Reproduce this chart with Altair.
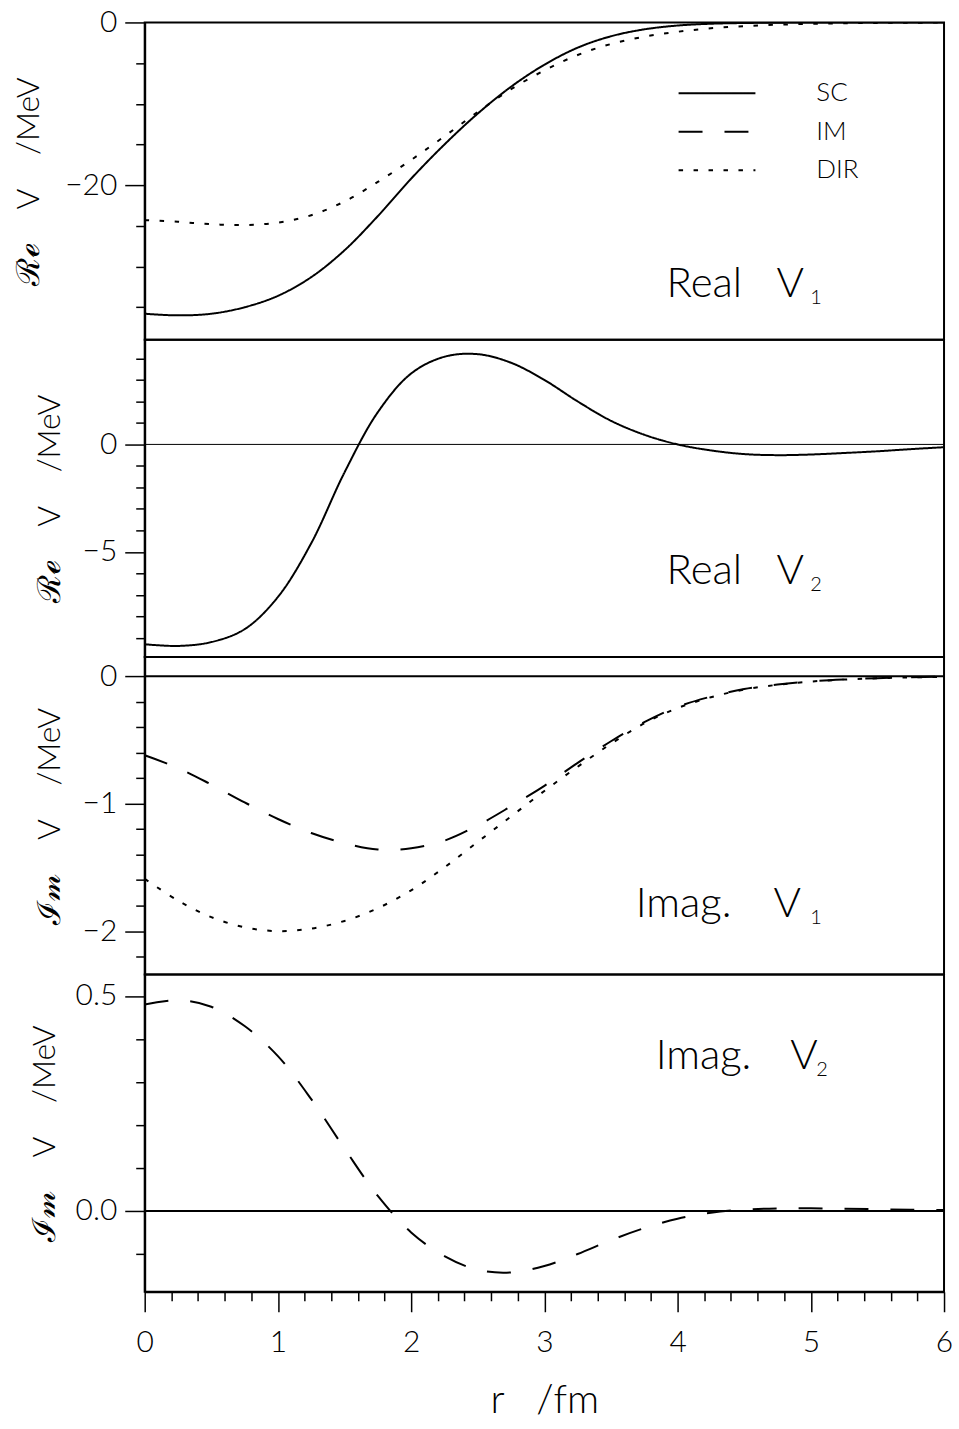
import altair as alt
import pandas as pd

FONT = "Lato"
FW = 300

# ---------------- data ----------------
r = [0, 0.25, 0.5, 0.75, 1.0, 1.25, 1.5, 1.75, 2.0, 2.25, 2.5, 2.75, 3.0,
     3.25, 3.5, 3.75, 4.0, 4.25, 4.5, 4.75, 5.0, 5.25, 5.5, 5.75, 6.0]

# Real V1 (MeV)
re1_sc = [-35.8, -36.0, -35.8, -35.0, -33.6, -31.3, -28.0, -23.8, -19.2, -15.0,
          -11.2, -7.9, -5.2, -3.1, -1.7, -0.85, -0.38, -0.16, -0.07, -0.03,
          -0.01, 0.0, 0.0, 0.0, 0.0]
re1_dir = [-24.3, -24.5, -24.8, -24.9, -24.6, -23.7, -22.0, -19.6, -16.9, -14.0,
           -11.0, -8.2, -5.9, -4.0, -2.65, -1.75, -1.15, -0.72, -0.45, -0.28,
           -0.17, -0.1, -0.06, -0.03, -0.02]

# Real V2 (MeV)
re2_sc = [-9.3, -9.38, -9.2, -8.6, -7.1, -4.6, -1.3, 1.5, 3.3, 4.08, 4.2, 3.8,
          3.0, 2.0, 1.1, 0.45, 0.0, -0.28, -0.45, -0.5, -0.47, -0.4, -0.32,
          -0.22, -0.13]

# Imag V1 (MeV)
im1_im = [-0.62, -0.72, -0.85, -0.99, -1.12, -1.23, -1.31, -1.36, -1.35, -1.29,
          -1.17, -1.02, -0.86, -0.68, -0.51, -0.36, -0.24, -0.16, -0.1, -0.065,
          -0.04, -0.025, -0.015, -0.008, -0.004]
im1_dir = [-1.59, -1.76, -1.89, -1.97, -2.0, -1.98, -1.92, -1.82, -1.68, -1.5,
           -1.3, -1.1, -0.9, -0.71, -0.53, -0.37, -0.25, -0.165, -0.105, -0.067,
           -0.042, -0.026, -0.016, -0.009, -0.005]

# Imag V2 (MeV)
im2_im = [0.48, 0.49, 0.475, 0.43, 0.36, 0.26, 0.145, 0.035, -0.05, -0.105,
          -0.137, -0.143, -0.128, -0.1, -0.068, -0.04, -0.018, -0.004, 0.003,
          0.006, 0.006, 0.005, 0.004, 0.003, 0.002]

models = ["SC", "IM", "DIR"]
dashes = [[1, 0], [24, 22], [4.5, 10.5]]

x_ticks = [round(i * 0.2, 1) for i in range(31)]
p1_ticks = [-35, -30, -25, -20, -15, -10, -5, 0]
p2_ticks = [-9, -8, -7, -6, -5, -4, -3, -2, -1, 0, 1, 2, 3, 4]
p3_ticks = [round(-2.2 + 0.2 * i, 1) for i in range(12)]
p4_ticks = [-0.1, 0.0, 0.1, 0.2, 0.3, 0.4, 0.5]

NB = "\u00a0"
title_re = "ℛℯ" + NB * 4 + "V" + NB * 4 + "/MeV"
title_im = "ℐ𝓂" + NB * 4 + "V" + NB * 4 + "/MeV"

W, H = 801, 318


def frame(cols):
    rows = []
    for name, vals in cols:
        for rr, vv in zip(r, vals):
            rows.append({"r": rr, "v": vv, "model": name})
    return pd.DataFrame(rows)


def test_expr(step):
    return f"abs(datum.value/{step} - round(datum.value/{step})) < 1e-6"


def label_expr(step, fmt):
    t = test_expr(step)
    return f"({t}) ? format(datum.value, '{fmt}') : ''"


def y_axis(values, step, minor, fmt, title, title_x):
    t = test_expr(step)
    return alt.Axis(
        values=values, tickCount=200, tickMinStep=minor,
        labelExpr=label_expr(step, fmt),
        tickSize={"condition": {"test": t, "value": 20}, "value": 9},
        tickWidth=1.5, tickColor="black", domainColor="black", domainWidth=2,
        labelFont=FONT, labelFontSize=30, labelFontWeight=FW, labelColor="black",
        labelPadding=8, labelFlush=False, labelOverlap=False, labelBound=False,
        grid=False, title=title, titleX=title_x, titleY=H / 2, titleAngle=270,
        titleAlign="center", titleBaseline="alphabetic", titleFont=FONT,
        titleFontSize=32, titleFontWeight=FW, titleColor="black",
    )


def x_axis():
    t = test_expr(1)
    return alt.Axis(
        values=x_ticks, tickCount=200, tickMinStep=0.2,
        labelExpr=label_expr(1, ".0f"),
        tickSize={"condition": {"test": t, "value": 20}, "value": 9},
        tickWidth=1.5, tickColor="black", domainColor="black", domainWidth=2,
        labelFont=FONT, labelFontSize=30, labelFontWeight=FW, labelColor="black",
        labelPadding=16, labelFlush=False, labelOverlap=False, labelBound=False,
        grid=False, title="r" + NB * 3 + "/fm", titleFont=FONT, titleFontSize=40,
        titleFontWeight=FW, titleColor="black", titleBaseline="alphabetic",
        titleY=121, titleX=W / 2, titleAlign="center",
    )


def text(t, px, py, size):
    return alt.Chart(pd.DataFrame({"t": [t]})).mark_text(
        align="left", baseline="alphabetic", font=FONT, fontSize=size,
        fontWeight=FW, color="black"
    ).encode(x=alt.value(px), y=alt.value(py), text="t:N")


def zero_rule(width):
    return alt.Chart(pd.DataFrame({"z": [0]})).mark_rule(
        color="black", strokeWidth=width).encode(y=alt.datum(0))


def panel(df, ydom, axis, extras, xaxis=None):
    enc_x = alt.X("r:Q", scale=alt.Scale(domain=[0, 6], nice=False, zero=False),
                  axis=xaxis)
    base = alt.Chart(df).mark_line(
        interpolate="catmull-rom", strokeWidth=2, color="black", clip=True
    ).encode(
        x=enc_x,
        y=alt.Y("v:Q", scale=alt.Scale(domain=ydom, nice=False, zero=False), axis=axis),
        strokeDash=alt.StrokeDash("model:N", scale=alt.Scale(domain=models, range=dashes),
                                  legend=None),
        detail="model:N",
    )
    return alt.layer(*extras, base).properties(width=W, height=H)


# legend (inside panel 1)
legend_layers = []
for i, (name, dash) in enumerate(zip(models, dashes)):
    ly = 71 + i * 38.5
    legend_layers.append(
        alt.Chart(pd.DataFrame({"m": [name]})).mark_rule(
            color="black", strokeWidth=2, strokeDash=dash
        ).encode(x=alt.value(535), x2=alt.value(612), y=alt.value(ly))
    )
    legend_layers.append(
        alt.Chart(pd.DataFrame({"m": [name]})).mark_text(
            align="left", baseline="middle", font=FONT, fontSize=26,
            fontWeight=FW, color="black"
        ).encode(x=alt.value(673), y=alt.value(ly), text="m:N")
    )

p1 = panel(
    frame([("SC", re1_sc), ("DIR", re1_dir)]), [-39, 0],
    y_axis(p1_ticks, 20, 5, ".0f", title_re, -106),
    legend_layers + [text("Real", 523, 275, 42), text("V", 633, 275, 42),
                     text("1", 667, 282, 20)],
)
p2 = panel(
    frame([("SC", re2_sc)]), [-9.9, 4.87],
    y_axis(p2_ticks, 5, 1, ".0f", title_re, -85),
    [zero_rule(1), text("Real", 523, 245, 42), text("V", 633, 245, 42),
     text("2", 667, 252, 20)],
)
p3 = panel(
    frame([("IM", im1_im), ("DIR", im1_dir)]), [-2.34, 0.15],
    y_axis(p3_ticks, 1, 0.2, ".0f", title_im, -85),
    [zero_rule(2), text("Imag.", 492, 260, 42), text("V", 630, 260, 42),
     text("1", 667, 267, 20)],
)
p4 = panel(
    frame([("IM", im2_im)]), [-0.188, 0.55],
    y_axis(p4_ticks, 0.5, 0.1, ".1f", title_im, -90),
    [zero_rule(2), text("Imag.", 512, 95, 42), text("V", 647, 95, 42),
     text("2", 673, 102, 20)],
    xaxis=x_axis(),
)

chart = alt.vconcat(p1, p2, p3, p4, spacing=0, bounds="flush").resolve_scale(
    y="independent"
).configure_view(
    stroke="black", strokeWidth=2
).properties(
    background="white",
    padding={"left": 12, "top": 5, "right": 5, "bottom": 0}
)

chart.save("out.html", embed_options={"renderer": "svg", "actions": False})
